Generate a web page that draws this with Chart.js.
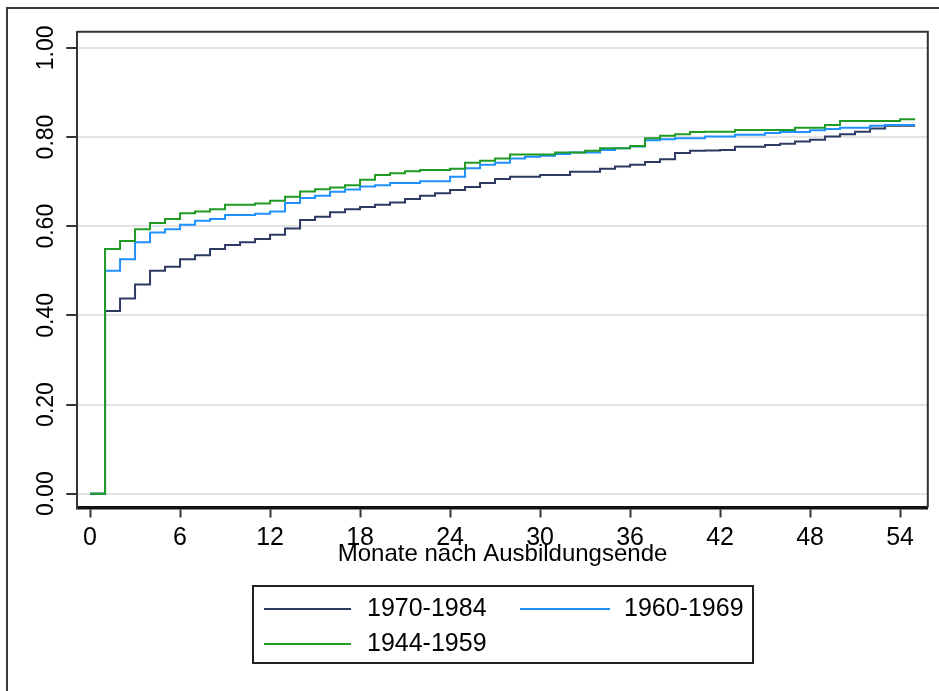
<!DOCTYPE html>
<html>
<head>
<meta charset="utf-8">
<title>Monate nach Ausbildungsende</title>
<script src="https://cdn.jsdelivr.net/npm/chart.js@4.4.1/dist/chart.umd.min.js"></script>
<style>
  html, body { margin: 0; padding: 0; background: #fff; }
  #wrap { width: 939px; height: 691px; }
</style>
</head>
<body>
<div id="wrap"><canvas id="survChart" width="939" height="691"></canvas></div>
<script>
// months after end of training (step at each month)
const months = [0, 1, 2, 3, 4, 5, 6, 7, 8, 9, 10, 11, 12, 13, 14, 15, 16, 17, 18, 19, 20,
    21, 22, 23, 24, 25, 26, 27, 28, 29, 30, 31, 32, 33, 34, 35, 36, 37, 38, 39, 40,
    41, 42, 43, 44, 45, 46, 47, 48, 49, 50, 51, 52, 53, 54, 55];

const cohort7084 = [0, 0.410, 0.438, 0.469, 0.500, 0.509, 0.526, 0.535, 0.549, 0.558, 0.564,
    0.571, 0.581, 0.595, 0.614, 0.621, 0.631, 0.638, 0.643, 0.648, 0.653,
    0.661, 0.668, 0.674, 0.681, 0.688, 0.697, 0.706, 0.711, 0.711, 0.715,
    0.715, 0.722, 0.722, 0.729, 0.734, 0.738, 0.744, 0.750, 0.764, 0.769,
    0.770, 0.771, 0.778, 0.778, 0.782, 0.785, 0.790, 0.794, 0.801, 0.806,
    0.812, 0.819, 0.825, 0.825, 0.825];

const cohort6069 = [0, 0.500, 0.526, 0.564, 0.586, 0.593, 0.603, 0.612, 0.616, 0.625, 0.625,
    0.628, 0.633, 0.652, 0.663, 0.668, 0.677, 0.682, 0.689, 0.692, 0.697,
    0.697, 0.701, 0.701, 0.711, 0.730, 0.738, 0.742, 0.752, 0.756, 0.758,
    0.762, 0.765, 0.765, 0.771, 0.775, 0.779, 0.793, 0.795, 0.797, 0.797,
    0.801, 0.801, 0.805, 0.805, 0.809, 0.811, 0.811, 0.815, 0.818, 0.821,
    0.821, 0.825, 0.827, 0.827, 0.827];

const cohort4459 = [0, 0.549, 0.567, 0.593, 0.607, 0.616, 0.629, 0.633, 0.638, 0.648, 0.648,
    0.651, 0.657, 0.666, 0.678, 0.683, 0.687, 0.692, 0.704, 0.715, 0.719,
    0.723, 0.726, 0.726, 0.729, 0.742, 0.747, 0.752, 0.761, 0.761, 0.761,
    0.765, 0.765, 0.769, 0.775, 0.775, 0.780, 0.797, 0.803, 0.806, 0.811,
    0.812, 0.812, 0.816, 0.816, 0.816, 0.816, 0.821, 0.821, 0.827, 0.836,
    0.836, 0.836, 0.836, 0.840, 0.840];

const seriesLabels = ['1970-1984', '1960-1969', '1944-1959'];
const xTicks = [0, 6, 12, 18, 24, 30, 36, 42, 48, 54];
const yTicks = [0, 0.2, 0.4, 0.6, 0.8, 1.0];
const xTitle = 'Monate nach Ausbildungsende';

const FONT = "'Liberation Sans', Arial, sans-serif";

function toPoints(values) {
    return months.map((m, i) => ({ x: m, y: values[i] }));
}

// white background, outer frame and the top/right border of the plot region
const framePlugin = {
    id: 'frame',
    beforeDraw(chart) {
        const c = chart.ctx;
        c.save();
        c.fillStyle = '#fff';
        c.fillRect(0, 0, chart.width, chart.height);
        c.strokeStyle = '#3a3a3a';
        c.lineWidth = 2;
        c.beginPath();
        c.moveTo(7, chart.height);
        c.lineTo(7, 8);
        c.lineTo(chart.width, 8);
        c.stroke();
        c.restore();
    },
    afterDraw(chart) {
        const { left, top, right, bottom } = chart.chartArea;
        const c = chart.ctx;
        c.save();
        c.strokeStyle = '#333';
        c.lineWidth = 2;
        c.beginPath();
        c.moveTo(left, top);
        c.lineTo(right, top);
        c.lineTo(right, bottom);
        c.stroke();
        c.restore();
    }
};

// boxed legend below the axis title
const boxLegend = {
    id: 'boxLegend',
    afterDraw(chart) {
        const c = chart.ctx;
        const slots = [
            { x0: 264, x1: 351, tx: 367, y: 609 },
            { x0: 520, x1: 610, tx: 624, y: 609 },
            { x0: 264, x1: 351, tx: 367, y: 644 }
        ];
        c.save();
        c.strokeStyle = '#222';
        c.lineWidth = 2;
        c.strokeRect(253, 586, 500, 77);
        c.font = '25px ' + FONT;
        c.textBaseline = 'middle';
        c.textAlign = 'left';
        chart.data.datasets.forEach((d, i) => {
            const s = slots[i];
            c.strokeStyle = d.borderColor;
            c.lineWidth = 2;
            c.beginPath();
            c.moveTo(s.x0, s.y);
            c.lineTo(s.x1, s.y);
            c.stroke();
            c.fillStyle = '#000';
            c.fillText(d.label, s.tx, s.y);
        });
        c.restore();
    }
};

const ctx = document.getElementById('survChart').getContext('2d');
new Chart(ctx, {
    type: 'line',
    data: {
        datasets: [
            { label: seriesLabels[0], data: toPoints(cohort7084), borderColor: '#2c3a63', order: 3 },
            { label: seriesLabels[1], data: toPoints(cohort6069), borderColor: '#2090ff', order: 2 },
            { label: seriesLabels[2], data: toPoints(cohort4459), borderColor: '#1f9a23', order: 1 }
        ]
    },
    options: {
        responsive: false,
        animation: false,
        devicePixelRatio: 1,
        layout: { padding: { left: 0, top: 31.8, right: 11.2, bottom: 0 } },
        elements: {
            line: { borderWidth: 2, stepped: true, tension: 0, fill: false },
            point: { radius: 0, hoverRadius: 0 }
        },
        plugins: {
            legend: { display: false },
            tooltip: { enabled: false }
        },
        scales: {
            x: {
                type: 'linear',
                min: -0.85,
                max: 55.85,
                afterFit: s => { s.height = 183.5; },
                afterBuildTicks: s => { s.ticks = xTicks.map(v => ({ value: v })); },
                grid: { drawOnChartArea: false, drawTicks: true, tickLength: 10, tickColor: '#333', tickWidth: 2 },
                border: { color: '#111', width: 3.5 },
                ticks: {
                    padding: 6,
                    color: '#000',
                    maxRotation: 0,
                    autoSkip: false,
                    font: { family: FONT, size: 25 }
                },
                title: {
                    display: true,
                    text: xTitle,
                    color: '#000',
                    font: { family: FONT, size: 24 },
                    padding: { top: 0, bottom: 122 }
                }
            },
            y: {
                type: 'linear',
                min: -0.031,
                max: 1.036,
                afterFit: s => { s.width = 77.3; },
                afterBuildTicks: s => { s.ticks = yTicks.map(v => ({ value: v })); },
                grid: { color: '#e3e3e3', lineWidth: 2, drawTicks: true, tickLength: 11, tickColor: '#333', tickWidth: 2 },
                border: { color: '#333', width: 2 },
                ticks: {
                    padding: -3,
                    color: '#000',
                    minRotation: 90,
                    maxRotation: 90,
                    crossAlign: 'center',
                    font: { family: FONT, size: 23 },
                    callback: v => v.toFixed(2)
                }
            }
        }
    },
    plugins: [framePlugin, boxLegend]
});
</script>
</body>
</html>
